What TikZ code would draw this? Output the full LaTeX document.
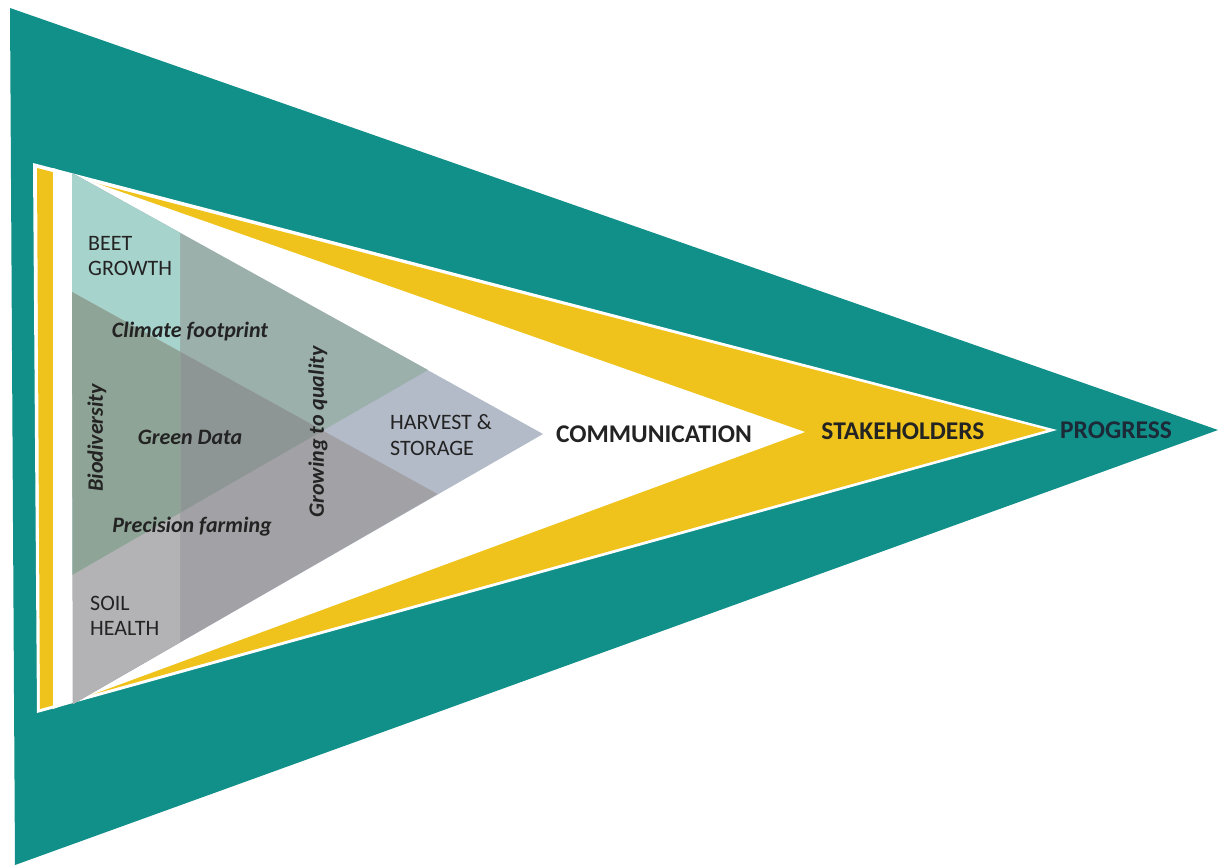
\documentclass[tikz,border=0pt]{standalone}
\usepackage{fontspec}
\setmainfont{Carlito}
\definecolor{tealc}{HTML}{118F89}
\definecolor{yelc}{HTML}{F0C31C}
\definecolor{beetc}{HTML}{A6D3CB}
\definecolor{topbandc}{HTML}{9BB0AB}
\definecolor{bioc}{HTML}{8EA496}
\definecolor{midc}{HTML}{8D9694}
\definecolor{soilc}{HTML}{B3B3B5}
\definecolor{botbandc}{HTML}{A2A2A6}
\definecolor{harvc}{HTML}{B3BBC9}
\definecolor{txtc}{HTML}{232323}
\definecolor{progc}{HTML}{1C2A38}
\begin{document}
\begin{tikzpicture}[x=1pt,y=-1pt,
  caps/.style={text=txtc, font=\fontsize{22}{25.5}\selectfont, align=left, inner sep=0pt},
  ital/.style={text=txtc, font=\fontsize{22}{25}\selectfont\bfseries\itshape, inner sep=0pt},
  big/.style={text=txtc, font=\fontsize{25.5}{28}\selectfont\bfseries, inner sep=0pt}]
\useasboundingbox (0,0) rectangle (1218,865);
\fill[white] (0,0) rectangle (1218,865);
% outer pennant
\fill[tealc] (10,8) -- (1218,430) -- (15,865) -- cycle;
\fill[white] (33,163) -- (1057,430) -- (37,713) -- cycle;
\fill[yelc] (37,168) -- (1047,430) -- (40,709) -- cycle;
\fill[white] (53,168) -- (805,432) -- (53,709) -- cycle;
% grey triangle
\coordinate (P1) at (72,173);
\coordinate (P2) at (73,704);
\coordinate (P3) at (543,434);
\coordinate (L1) at (72,575);
\coordinate (Q1) at (428,370);
\coordinate (L2) at (72,292);
\coordinate (Q2) at (437.5,494);
\fill[harvc] (P1) -- (P3) -- (P2) -- cycle;
\fill[topbandc] (P1) -- (Q1) -- (L1) -- cycle;
\fill[botbandc] (L2) -- (Q2) -- (P2) -- cycle;
\begin{scope}
  \clip (P1) -- (Q1) -- (L1) -- cycle;
  \fill[midc] (L2) -- (Q2) -- (P2) -- cycle;
\end{scope}
\begin{scope}
  \clip (60,150) rectangle (180,720);
  \fill[beetc] (P1) -- (Q1) -- (L1) -- cycle;
  \fill[soilc] (L2) -- (Q2) -- (P2) -- cycle;
  \clip (P1) -- (Q1) -- (L1) -- cycle;
  \fill[bioc] (L2) -- (Q2) -- (P2) -- cycle;
\end{scope}
% labels
\node[caps, anchor=west] (beet) at (88,256) {BEET\\GROWTH};
\node[caps, anchor=west] (soil) at (90,616) {SOIL\\HEALTH};
\node[caps, anchor=west] (harvest) at (390,435) {HARVEST \&\\STORAGE};
\node[ital] (climate) at (190,332) {Climate footprint};
\node[ital] (green) at (190,437) {Green Data};
\node[ital] (precision) at (192,527) {Precision farming};
\node[ital, rotate=90] (bio) at (97,438) {Biodiversity};
\node[ital, rotate=90] (growing) at (318,432) {Growing to quality};
\node[big] (comm) at (654,434) {COMMUNICATION};
\node[big] (stake) at (903,431) {STAKEHOLDERS};
\node[big, text=progc] (prog) at (1116,430) {PROGRESS};
\end{tikzpicture}
\end{document}
